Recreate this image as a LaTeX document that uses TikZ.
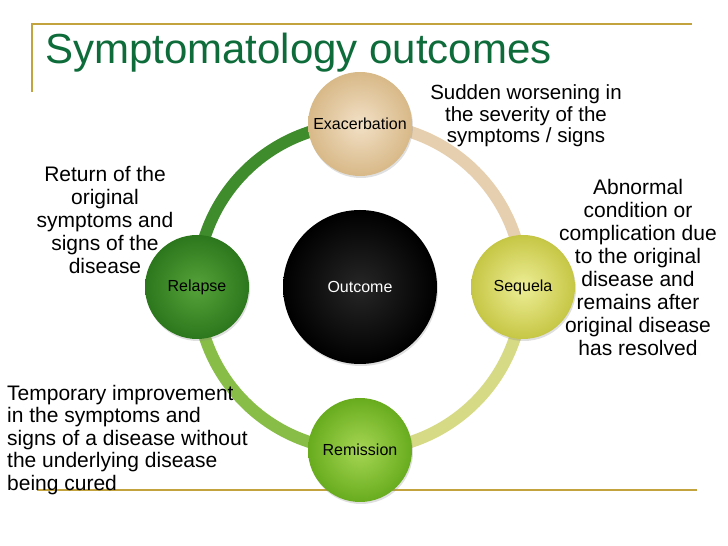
\documentclass[tikz,border=0pt]{standalone}
\usepackage{fontspec}
\setmainfont{Liberation Sans}
\usetikzlibrary{backgrounds,shadows}

\definecolor{rulegold}{HTML}{C2A33E}
\definecolor{titlegreen}{HTML}{0E6B3A}
\definecolor{exain}{HTML}{F2E0C6}
\definecolor{exaout}{HTML}{D8B988}
\definecolor{seqin}{HTML}{EDEE96}
\definecolor{seqout}{HTML}{C6C645}
\definecolor{remin}{HTML}{A6D654}
\definecolor{remout}{HTML}{68AC1E}
\definecolor{relin}{HTML}{56A33A}
\definecolor{relout}{HTML}{2C771C}
\definecolor{arctan}{HTML}{E6CFAE}
\definecolor{arcyel}{HTML}{D6DA84}
\definecolor{arcgrn}{HTML}{88BD48}
\definecolor{arcdark}{HTML}{3F8C2C}

\begin{document}
\begin{tikzpicture}[x=1pt,y=1pt,
  stage/.style={circle, minimum size=104pt, inner sep=0pt, font=\fontsize{16}{18}\selectfont,
    drop shadow={opacity=0.25, shadow xshift=1pt, shadow yshift=-2pt}},
  note/.style={align=center, inner sep=0pt, font=\fontsize{21}{23}\selectfont},
  ring/.style={line width=12pt}]
\useasboundingbox (0,0) rectangle (728,546);

% frame rules
\draw [rulegold, line width=2.5pt] (32,454) -- (32,522) -- (692,522);
\node (T) at (45,482) [anchor=base west, inner sep=0pt, text=titlegreen, font=\fontsize{42}{46}\selectfont] {Symptomatology outcomes};

\node (Out) at (360,259) [circle, minimum size=154pt, inner sep=0pt, shade, inner color=black!85, outer color=black, text=white, font=\fontsize{16}{18}\selectfont,
  drop shadow={opacity=0.25, shadow xshift=1pt, shadow yshift=-2pt}] {Outcome};
\node (Exa) at (360,422) [stage, shade, inner color=exain, outer color=exaout] {Exacerbation};
\node (Seq) at (523,259) [stage, shade, inner color=seqin, outer color=seqout] {Sequela};
\node (Rem) at (360,96) [stage, shade, inner color=remin, outer color=remout] {Remission};
\node (Rel) at (197,259) [stage, shade, inner color=relin, outer color=relout] {Relapse};

\begin{scope}[on background layer]
\draw [rulegold, line width=2.5pt] (37,56) -- (697,56);
\draw [ring, arctan] (Exa.center) arc[start angle=90, end angle=0, radius=163];
\draw [ring, arcyel] (Seq.center) arc[start angle=0, end angle=-90, radius=163];
\draw [ring, arcgrn] (Rem.center) arc[start angle=270, end angle=180, radius=163];
\draw [ring, arcdark] (Rel.center) arc[start angle=180, end angle=90, radius=163];
\end{scope}

% descriptions
\node (dExa) at (526,430) [note, font=\fontsize{20.5}{21.7}\selectfont] {Sudden worsening in\\the severity of the\\symptoms / signs};
\node (dSeq) at (638,279) [note] {Abnormal\\condition or\\complication due\\to the original\\disease and\\remains after\\original disease\\has resolved};
\node (dRel) at (105,326) [note] {Return of the\\original\\symptoms and\\signs of the\\disease};
\node (dRem) at (7,106) [note, anchor=west, align=left, font=\fontsize{21}{22.5}\selectfont] {Temporary improvement\\in the symptoms and\\signs of a disease without\\the underlying disease\\being cured};
\end{tikzpicture}
\end{document}
